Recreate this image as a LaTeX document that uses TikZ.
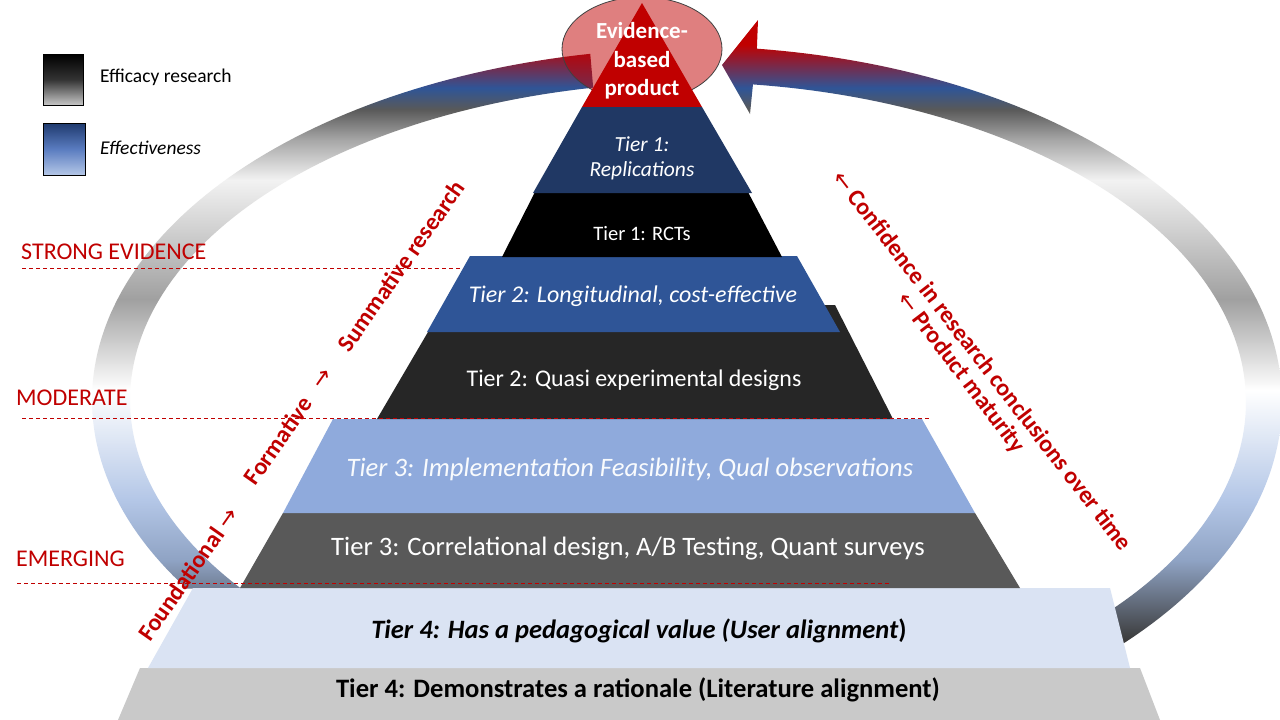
\documentclass[tikz,border=0pt]{standalone}
\usepackage{fontspec}
\setmainfont{Carlito}
\newfontfamily\arrowfont{DejaVu Sans}
\usetikzlibrary{shapes.geometric}
\definecolor{cRed}{HTML}{C00000}
\definecolor{cNavy}{HTML}{203864}
\definecolor{cBlue}{HTML}{2F5597}
\definecolor{cQuasi}{HTML}{262626}
\definecolor{cImpl}{HTML}{8FAADC}
\definecolor{cCorr}{HTML}{595959}
\definecolor{cUser}{HTML}{DAE3F3}
\definecolor{cBase}{HTML}{C9C9C9}
\definecolor{rDark}{HTML}{3A3A3A}
\definecolor{rSlate}{HTML}{8FA3C4}
\definecolor{rLightBlue}{HTML}{B4C7E7}
\definecolor{rGrayA}{HTML}{A0A0A0}
\definecolor{rGrayB}{HTML}{D0D0D0}
\definecolor{rWhiteish}{HTML}{F2F2F2}
\definecolor{rGrayC}{HTML}{A6A6A6}
\definecolor{rDarkGray}{HTML}{595959}
\definecolor{rBlue}{HTML}{2F5597}
\definecolor{rRed}{HTML}{C00000}
\definecolor{legNavy}{HTML}{1F3A6E}
\definecolor{legMid}{HTML}{5A7CC0}
\pgfdeclareverticalshading{ringshade}{100bp}{color(0bp)=(rDark); color(30.5bp)=(rDark); color(36.1bp)=(rSlate); color(40.3bp)=(rLightBlue); color(47.9bp)=(white); color(54.2bp)=(rGrayA); color(59bp)=(rGrayB); color(62.5bp)=(rWhiteish); color(65.3bp)=(rGrayC); color(67.4bp)=(rDarkGray); color(68.9bp)=(rBlue); color(71.9bp)=(rRed); color(100bp)=(rRed)}
\newcommand\fsz[2]{\fontsize{#1}{#2}\selectfont}
\newcommand\rarr{{\arrowfont\mdseries\fsz{23}{26}→}}
\newcommand\larr{{\arrowfont\mdseries\fsz{23}{26}←}}
\tikzset{
  tiertext/.style={text=white, inner sep=0pt},
  lvltext/.style={text=cRed, anchor=west, inner sep=0pt, font=\fsz{24}{28}},
  rottext/.style={text=cRed, inner sep=0pt, font=\bfseries\fsz{24}{28}},
  lvlline/.style={draw=cRed, dash pattern=on 4pt off 3pt, line width=0.9pt},
  legtext/.style={anchor=west, inner sep=0pt, font=\fsz{19.5}{23}},
}
\begin{document}
\begin{tikzpicture}[x=1pt,y=-1pt]
\useasboundingbox (0,0) rectangle (1280,720);
\fill[white] (0,0) rectangle (1280,720);
% left arc
\begin{scope}
\clip plot[domain=259.6:147.6, samples=90] ({700+608*cos(\x)},{400+352*sin(\x)})
 -- plot[domain=143.8:259.2, samples=90] ({700+570*cos(\x)},{400+318*sin(\x)}) -- cycle;
\shade[shading=ringshade] (0,0) rectangle (1280,720);
\end{scope}
% right arc with arrowhead
\begin{scope}
\clip (722,65) -- (758,20)
 -- plot[domain=277:408, samples=110] ({684+598*cos(\x)},{402+356*sin(\x)})
 -- plot[domain=408:277.05, samples=110] ({684+562*cos(\x)},{402+320*sin(\x)})
 -- (750,114) -- cycle;
\shade[shading=ringshade] (0,0) rectangle (1280,720);
\end{scope}
% ellipse and apex
\node[ellipse, draw=black!75, line width=0.8pt, fill=cRed, fill opacity=0.5, draw opacity=1, minimum width=160pt, minimum height=104pt, inner sep=0pt] (ebp) at (642,49) {};
\fill[cRed] (642,3) -- (702,107) -- (582,107) -- cycle;
% pyramid layers
\fill[cBase] (140,668) -- (1140,668) -- (1160,720) -- (118,720) -- cycle;
\fill[cUser] (193,588) -- (1110,588) -- (1130,668) -- (148,668) -- cycle;
\fill[cCorr] (283,513) -- (975,513) -- (1020,588) -- (240,588) -- cycle;
\fill[cImpl] (333,419) -- (922,419) -- (975,513) -- (283,513) -- cycle;
\fill[cQuasi] (377,419) -- (428,332) -- (446,305) -- (835,305) -- (893,419) -- cycle;
\fill[cBlue] (470,256) -- (797,256) -- (840,332) -- (427,332) -- cycle;
\fill[black] (535,192) -- (748,192) -- (782,257) -- (502,257) -- cycle;
\fill[cNavy] (582,107) -- (702,107) -- (752,193) -- (533,193) -- cycle;
% texts in pyramid
\node[tiertext, align=center, font=\bfseries\fsz{23}{28.5}] (ebptext) at (642,61) {Evidence-\\based\\product};
\node[tiertext, align=center, font=\itshape\fsz{21.5}{25}] (t1rep) at (642,158) {Tier 1:\\Replications};
\node[tiertext, font=\fsz{20.5}{24}] (t1rct) at (642,234) {Tier 1: RCTs};
\node[tiertext, font=\itshape\fsz{24}{28}] (t2lon) at (633,296) {Tier 2: Longitudinal, cost-effective};
\node[tiertext, font=\fsz{23.9}{28}] (t2qua) at (634,380) {Tier 2: Quasi experimental designs};
\node[tiertext, text=white!95!cImpl, font=\itshape\fsz{26.6}{30}] (t3imp) at (630,469) {Tier 3: Implementation Feasibility, Qual observations};
\node[tiertext, font=\fsz{26.6}{30}] (t3cor) at (628,549) {Tier 3: Correlational design, A/B Testing, Quant surveys};
\node[tiertext, text=black, font=\bfseries\fsz{26.5}{30}] (t4ped) at (639,631) {\textit{Tier 4: Has a pedagogical value (User alignment})};
\node[tiertext, text=black, font=\bfseries\fsz{26.6}{30}] (t4rat) at (638,690) {Tier 4: Demonstrates a rationale (Literature alignment)};
% level lines and labels
\draw[lvlline] (22,268) -- (463,268);
\draw[lvlline] (22,418) -- (930,418);
\draw[lvlline] (17,583) -- (890,583);
\node[lvltext] (strong) at (21,252) {STRONG EVIDENCE};
\node[lvltext] (moderate) at (16,398) {MODERATE};
\node[lvltext] (emerging) at (16,559) {EMERGING};
% rotated labels
\node[rottext, rotate=55] (found) at (188,574) {Foundational \rarr};
\node[rottext, rotate=55] (form) at (288,426) {Formative\hspace{16pt}\rarr};
\node[rottext, rotate=55] (summ) at (401,266) {Summative research};
\node[rottext, rotate=-52.3] (conf) at (983,360) {\larr\ Confidence in research conclusions over time};
\node[rottext, rotate=-52.8] (prod) at (961,373) {\larr\ Product maturity};
% legend
\shade[top color=black, bottom color=black!22, middle color=black!80, draw=black, line width=1pt] (43,54) rectangle (83,105);
\shade[top color=legNavy, bottom color=rLightBlue, middle color=legMid, draw=black, line width=1pt] (43,123) rectangle (85,175);
\node[legtext] (leg1) at (100,77) {Efficacy research};
\node[legtext, font=\itshape\fsz{19.5}{23}] (leg2) at (100,148) {Effectiveness};
\end{tikzpicture}
\end{document}
